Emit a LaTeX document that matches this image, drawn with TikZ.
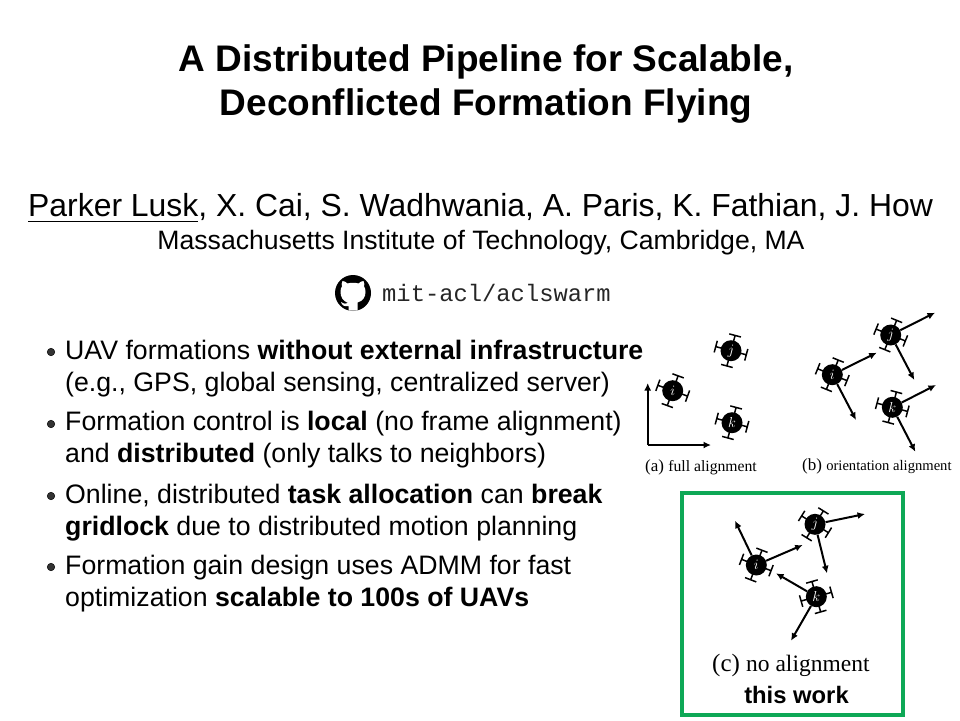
\documentclass[tikz,border=0pt]{standalone}
\usepackage{fontspec}
\setmainfont{Liberation Sans}
\setmonofont{Liberation Mono}
\newfontfamily\capfont{Liberation Serif}
\usetikzlibrary{arrows.meta}
\tikzset{
  arm/.style={line width=1.5pt, black},
  vec/.style={line width=2pt, black, -{Latex[length=7.5pt,width=7pt]}},
  axis/.style={line width=2pt, black, -{Latex[length=7.5pt,width=7pt]}},
  hub/.style={circle, fill=black, minimum size=21pt, inner sep=0pt, text=white, font=\fontsize{15}{15}\selectfont},
  item/.style={anchor=base west, inner sep=0pt, align=left, font=\fontsize{26.7}{32}\selectfont},
  dot/.style={circle, draw=black, fill=black!80, line width=0.5pt, minimum size=7.5pt, inner sep=0pt},
  caption/.style={anchor=base west, inner sep=0pt},
}
\definecolor{workgreen}{RGB}{14,168,86}
\newcommand{\drone}[4]{%
  \node[hub] (#1) at (#2) {$#3$};
  \foreach \t in {0,90,180,270}
    \draw[arm, shift={(#2)}, rotate=#4+\t] (0,-9) -- (0,-15.8) (-6,-15.8) -- (6,-15.8);
}
\begin{document}
\begin{tikzpicture}[x=1pt,y=-1pt]
  \useasboundingbox (0,0) rectangle (960,720);

  % Header
  \node[align=center, inner sep=0pt, font=\fontsize{37}{44}\bfseries\selectfont, anchor=base] (title) at (486,115)
    {A Distributed Pipeline for Scalable,\\Deconflicted Formation Flying};
  \node[anchor=base west, inner sep=0pt, font=\fontsize{31.9}{32}\selectfont] (authors) at (28,216)
    {Parker Lusk, X. Cai, S. Wadhwania, A. Paris, K. Fathian, J. How};
  \coordinate (ulA) at (28,221);
  \coordinate (ulB) at (198,221);
  \draw[line width=1pt] (ulA) -- (ulB);
  \node[anchor=base, inner sep=0pt, font=\fontsize{26.6}{27}\selectfont] (school) at (481,249)
    {Massachusetts Institute of Technology, Cambridge, MA};

  % Repo
  \node[circle, fill=black, minimum size=36pt, inner sep=0pt] (logo) at (353,293) {};
  \fill[white, shift={(logo.center)}] (-4.5,17.6) -- (-4.5,13) .. controls (-9,14) and (-11,12) .. (-12,9)
    .. controls (-9,11) and (-7,11) .. (-5,10) .. controls (-10,8) and (-12.5,4) .. (-12.5,-1)
    .. controls (-12.5,-4) and (-12,-5) .. (-11,-6.5) .. controls (-11.5,-8) and (-11.5,-10) .. (-10.5,-12)
    .. controls (-9,-12) and (-7,-11) .. (-5.5,-9.5) .. controls (-2,-10.5) and (2,-10.5) .. (5.5,-9.5)
    .. controls (7,-11) and (9,-12) .. (10.5,-12) .. controls (11.5,-10) and (11.5,-8) .. (11,-6.5)
    .. controls (12,-5) and (12.5,-4) .. (12.5,-1) .. controls (12.5,4) and (10,8) .. (4.5,9.5)
    .. controls (5,11) and (4.5,13) .. (4.5,17.6) -- cycle;
  \node[anchor=base west, inner sep=0pt, text=black!85, font=\ttfamily\fontsize{23.8}{24}\selectfont] (repo) at (382,301)
    {mit-acl/aclswarm};

  % Bullets
  \node[item] (itemA) at (65,391) {UAV formations \textbf{without external infrastructure}\\(e.g., GPS, global sensing, centralized server)};
  \node[item] (itemB) at (65,462.5) {Formation control is \textbf{local} (no frame alignment)\\and \textbf{distributed} (only talks to neighbors)};
  \node[item] (itemC) at (65,535) {Online, distributed \textbf{task allocation} can \textbf{break}\\\textbf{gridlock} due to distributed motion planning};
  \node[item] (itemD) at (65,606) {Formation gain design uses ADMM for fast\\optimization \textbf{scalable to 100s of UAVs}};
  \foreach \n/\y in {dotA/352, dotB/424, dotC/496, dotD/567}
    \node[dot] (\n) at (51,\y) {};

  % Full alignment
  \drone{ai}{672.7,390.7}{i}{-20}
  \drone{aj}{731,350.7}{j}{-15}
  \drone{ak}{732,422.7}{k}{-15}
  \coordinate (o) at (647.7,445);
  \coordinate (ox) at (711,445);
  \coordinate (oy) at (647.7,383);
  \draw[axis] (o) -- (ox);
  \draw[axis] (o) -- (oy);
  \node[caption] (capa) at (645,471) {\capfont\fontsize{17}{17}\selectfont (a) \fontsize{15.7}{15}\selectfont full alignment};

  % Orientation alignment
  \drone{bi}{832.3,374.7}{i}{-22}
  \drone{bj}{890.7,335}{j}{-22}
  \drone{bk}{892.3,407.3}{k}{-15}
  \coordinate (bi1) at (876.7,352.7);
  \coordinate (bi2) at (856,420);
  \coordinate (bj1) at (935,312.7);
  \coordinate (bj2) at (914.3,380);
  \coordinate (bk1) at (936,385);
  \coordinate (bk2) at (915.3,451.7);

  % No alignment
  \draw[line width=4pt, workgreen] (682,493) rectangle (902.5,715);
  \drone{ci}{756.3,565}{i}{-21}
  \drone{cj}{815,524.3}{j}{-32}
  \drone{ck}{816.3,596.7}{k}{16}
  \coordinate (ci1) at (735,520.7);
  \coordinate (ci2) at (802.7,545);
  \coordinate (cj1) at (865,514);
  \coordinate (cj2) at (827,573.3);
  \coordinate (ck1) at (776,573.3);
  \coordinate (ck2) at (791,640.7);

  % Vectors
  \foreach \p/\q in {bi/bi1, bi/bi2, bj/bj1, bj/bj2, bk/bk1, bk/bk2, ci/ci1, ci/ci2, cj/cj1, cj/cj2, ck/ck1, ck/ck2}
    \draw[vec] (\p) -- (\q);

  \node[caption] (capb) at (802,470) {\capfont\fontsize{17}{17}\selectfont (b) \fontsize{14.6}{15}\selectfont orientation alignment};
  \node[caption] (capc) at (712,671) {\capfont\fontsize{25}{25}\selectfont (c) \fontsize{23.5}{23}\selectfont no alignment};
  \node[anchor=base, inner sep=0pt, font=\fontsize{23.8}{24}\bfseries\selectfont] (work) at (796.5,703) {this work};
\end{tikzpicture}
\end{document}
